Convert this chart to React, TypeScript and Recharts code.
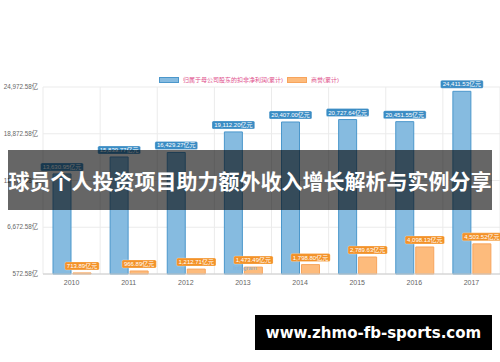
import React from "react";
import { Bar, BarChart, CartesianGrid, LabelList, XAxis, YAxis } from "recharts";

const years = ["2010", "2011", "2012", "2013", "2014", "2015", "2016", "2017"];
const netProfit = [13630.95, 15839.77, 16429.27, 19112.2, 20407.0, 20727.64, 20451.55, 24411.53];
const goodwill = [713.89, 966.89, 1212.71, 1473.49, 1798.8, 2789.63, 4098.13, 4503.52];
const yTicks = [572.58, 6672.58, 12772.58, 18872.58, 24972.58];

const seriesNames = ["归属于母公司股东的扣非净利润(累计)", "商誉(累计)"];

const data = years.map((year, i) => ({ year, netProfit: netProfit[i], goodwill: goodwill[i] }));

const FONT = '"Liberation Sans", Arial, "Noto Sans CJK SC", sans-serif';

const fmt = (v: number) =>
  v.toLocaleString("en-US", { minimumFractionDigits: 2, maximumFractionDigits: 2 });

// rough text width for the badge boxes
const textWidth = (s: string, size: number) => {
  let w = 0;
  for (const ch of s) {
    if (/[\u4e00-\u9fff]/.test(ch)) w += size;
    else if (ch === "," || ch === ".") w += size * 0.28;
    else w += size * 0.556;
  }
  return w;
};

const badge = (color: string) => (props: any) => {
  const { x, y, width, value } = props;
  const text = fmt(Number(value)) + "亿元";
  const w = textWidth(text, 6) + 4;
  const cx = Number(x) + Number(width) / 2;
  const top = Number(y) - 11;
  return (
    <g>
      <rect x={cx - w / 2} y={top} width={w} height={8} rx={1.5} fill={color} stroke="rgba(255,255,255,0.5)" strokeWidth={0.5} />
      <text x={cx} y={top + 4} textAnchor="middle" dominantBaseline="central" fontSize={6} fill="#fff" fontFamily={FONT}>
        {text}
      </text>
    </g>
  );
};

export default function App() {
  return (
    <div style={{ position: "fixed", left: 0, top: 0, width: 500, height: 362, background: "#fff", fontFamily: FONT }}>
      <BarChart width={500} height={362} data={data} margin={{ top: 87, right: 0, left: 0, bottom: 68 }} barSize={18} barGap={2}>
        <CartesianGrid
          stroke="#ebebeb"
          verticalCoordinatesGenerator={({ offset }: any) =>
            Array.from({ length: years.length + 1 }, (_, i) => offset.left + (i * offset.width) / years.length)
          }
        />
        <XAxis
          dataKey="year"
          height={20}
          axisLine={{ stroke: "#ccc" }}
          tickLine={false}
          tickSize={4}
          tickMargin={2}
          tick={{ fontSize: 7, fill: "#666", fontFamily: FONT }}
        />
        <YAxis
          type="number"
          width={43}
          domain={[yTicks[0], yTicks[yTicks.length - 1]]}
          ticks={yTicks}
          axisLine={false}
          tickLine={false}
          tickSize={3}
          tickMargin={2}
          tick={{ fontSize: 6.3, fill: "#666", fontFamily: FONT }}
          tickFormatter={(v: number) => fmt(v) + "亿"}
        />
        <Bar dataKey="netProfit" fill="#86bbe0" stroke="#4b97cb" strokeWidth={1} isAnimationActive={false}>
          <LabelList dataKey="netProfit" content={badge("#3a8cc4")} />
        </Bar>
        <Bar dataKey="goodwill" fill="#fdbb7c" stroke="#f7a45c" strokeWidth={1} isAnimationActive={false}>
          <LabelList dataKey="goodwill" content={badge("#f39228")} />
        </Bar>
      </BarChart>

      {/* legend */}
      <div style={{ position: "absolute", top: 75, left: 159, display: "flex", alignItems: "center", fontSize: 6, color: "#e0508c", whiteSpace: "nowrap" }}>
        <span style={{ width: 20, height: 6, background: "#86bbe0", border: "1px solid #4b97cb", boxSizing: "border-box", marginRight: 4 }} />
        <span style={{ marginRight: 4 }}>{seriesNames[0]}</span>
        <span style={{ width: 20, height: 6, background: "#fdbb7c", border: "1px solid #f7a45c", boxSizing: "border-box", marginRight: 4 }} />
        <span>{seriesNames[1]}</span>
      </div>

      <div style={{ position: "absolute", left: 233, top: 265, fontSize: 6, color: "#7fb0d8" }}>Infogram</div>

      {/* title banner */}
      <div
        style={{
          position: "absolute",
          left: 8,
          top: 150,
          width: 484,
          height: 60,
          background: "rgba(0,0,0,0.6)",
          color: "#fff",
          fontFamily: '"Noto Sans CJK SC", sans-serif',
          fontWeight: 700,
          fontSize: 21,
          display: "flex",
          alignItems: "center",
          justifyContent: "center",
          whiteSpace: "nowrap",
        }}
      >
        球员个人投资项目助力额外收入增长解析与实例分享
      </div>

      {/* site mark */}
      <div
        style={{
          position: "absolute",
          left: 255,
          top: 315,
          width: 237,
          height: 35,
          background: "#000",
          color: "#fff",
          fontFamily: '"DejaVu Sans", sans-serif',
          fontWeight: 700,
          fontSize: 15,
          display: "flex",
          alignItems: "center",
          justifyContent: "center",
        }}
      >
        www.zhmo-fb-sports.com
      </div>
    </div>
  );
}
